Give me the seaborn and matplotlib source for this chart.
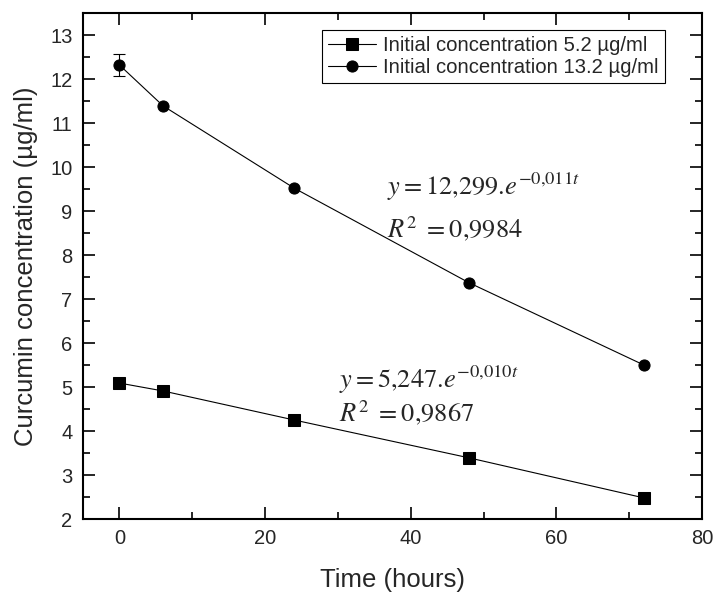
import matplotlib
matplotlib.use("Agg")
import matplotlib.pyplot as plt
import seaborn as sns
import pandas as pd
from matplotlib.ticker import MultipleLocator

time_h = [0, 6, 24, 48, 72]
conc_low = [5.09, 4.91, 4.25, 3.39, 2.48]
conc_high = [12.32, 11.39, 9.52, 7.37, 5.50]
err_high0 = 0.24
labels = ["Initial concentration 5.2 µg/ml", "Initial concentration 13.2 µg/ml"]

sns.set_style("ticks")
plt.rcParams["font.family"] = ["Liberation Sans", "DejaVu Sans"]
plt.rcParams["mathtext.fontset"] = "stix"

df = pd.DataFrame({
    "t": time_h * 2,
    "c": conc_low + conc_high,
    "series": [labels[0]] * len(time_h) + [labels[1]] * len(time_h),
})

fig = plt.figure(figsize=(7.15, 5.92), dpi=100)
ax = fig.add_axes([0.116, 0.1233, 0.866, 0.8547])

sns.lineplot(data=df, x="t", y="c", style="series", hue="series",
             palette=["black", "black"], markers={labels[0]: "s", labels[1]: "o"},
             dashes=False, markersize=8, linewidth=0.8, markeredgecolor="black",
             ax=ax, legend=True)
ax.errorbar([time_h[0]], [conc_high[0]], yerr=[err_high0], fmt="none",
            ecolor="black", elinewidth=0.8, capsize=4, capthick=0.8)

ax.set_xlim(-5, 80)
ax.set_ylim(2, 13.5)
ax.xaxis.set_major_locator(MultipleLocator(20))
ax.xaxis.set_minor_locator(MultipleLocator(10))
ax.yaxis.set_major_locator(MultipleLocator(1))
ax.yaxis.set_minor_locator(MultipleLocator(0.5))
ax.tick_params(which="both", direction="in", top=True, right=True, width=1.4)
ax.tick_params(which="major", length=8.5, labelsize=14.5, pad=7.5)
ax.tick_params(which="minor", length=5)
ax.tick_params(axis="x", which="both", labeltop=False)
ax.tick_params(axis="y", which="both", labelright=False)
for s in ax.spines.values():
    s.set_linewidth(1.5)
    s.set_color("black")

ax.set_xlabel("Time (hours)", fontsize=18.5, labelpad=14)
ax.set_ylabel("Curcumin concentration (µg/ml)", fontsize=18.5, labelpad=9)

leg = ax.legend(loc="upper right", bbox_to_anchor=(0.940, 0.966), borderaxespad=0,
                fontsize=14.6, frameon=True, fancybox=False, edgecolor="black",
                framealpha=1, borderpad=0.3, labelspacing=0.15, handlelength=2.4,
                handletextpad=0.35)
leg.get_frame().set_linewidth(0.8)

ax.text(36.8, 9.55, r"$y = 12{,}299.\!e^{-0{,}011t}$", fontsize=19, va="center")
ax.text(36.8, 8.61, r"$R^{2}\ = 0{,}9984$", fontsize=19, va="center")
ax.text(30.2, 5.16, r"$y = 5{,}247.\!e^{-0{,}010t}$", fontsize=19, va="center")
ax.text(30.2, 4.43, r"$R^{2}\ = 0{,}9867$", fontsize=19, va="center")

fig.savefig("out.png", dpi=100)
